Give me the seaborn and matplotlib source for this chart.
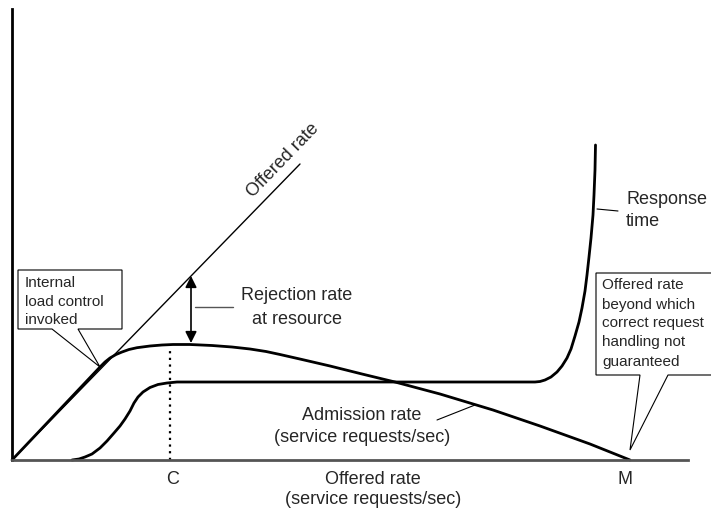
import matplotlib
matplotlib.use("Agg")
import matplotlib.pyplot as plt
import seaborn as sns
from matplotlib.patches import Polygon

# offered rate (straight diagonal)
offered_x = [0, 288]
offered_y = [0, 296]

# admission rate curve
admission_x = [0, 88, 93, 98, 104, 110, 117, 125, 138, 150, 161, 178, 200, 220, 238, 254,
               268, 290, 318, 350, 383, 428, 481, 528, 578, 618]
admission_y = [0, 93, 98, 102, 105.5, 108, 110.5, 112.3, 114, 115, 115.5, 115.5, 114.5, 113,
               111, 108.5, 105.5, 100.5, 94, 86, 78, 66, 50, 34, 16, 0]

# response time curve
response_x = [60, 67, 73, 80, 88, 95, 102, 108, 113, 118, 122, 126, 131, 138, 146, 155, 165,
              175, 523, 528, 533, 539, 545, 550, 555, 559, 563, 567, 570, 573, 575, 577, 579,
              581, 582, 583, 583.5]
response_y = [0, 1, 3, 6, 12, 19, 27, 34, 41, 49, 57, 63, 68, 72.5, 75.5, 77, 78, 78, 78,
              78.5, 80, 83, 88, 94, 102, 111, 124, 138, 152, 169, 185, 203, 222, 245, 265,
              290, 315]

capacity_x = 158
capacity_top = 110
max_x = 618
tick_labels = ["C", "M"]
tick_pos = [161, 613]

sns.set_style("white")
plt.rcParams["font.family"] = ["Liberation Sans", "DejaVu Sans"]

fig = plt.figure(figsize=(7.11, 5.08), dpi=100)
ax = fig.add_axes([0, 0, 1, 1])
ax.set_xlim(-12, 699)
ax.set_ylim(-48, 460)

sns.lineplot(x=offered_x, y=offered_y, ax=ax, color="black", lw=1, sort=False)
sns.lineplot(x=admission_x, y=admission_y, ax=ax, color="black", lw=2, sort=False)
sns.lineplot(x=response_x, y=response_y, ax=ax, color="black", lw=2, sort=False)

# capacity dotted line
ax.plot([capacity_x, capacity_x], [0, capacity_top], color="black", lw=1.6, ls=(0, (1, 2)))

# axes
for s in ["top", "right"]:
    ax.spines[s].set_visible(False)
ax.spines["left"].set_position(("data", 0))
ax.spines["left"].set_bounds(0, 451)
ax.spines["left"].set_linewidth(2)
ax.spines["left"].set_color("black")
ax.spines["bottom"].set_position(("data", 0))
ax.spines["bottom"].set_bounds(0, 676)
ax.spines["bottom"].set_linewidth(2)
ax.spines["bottom"].set_color("#555555")
ax.set_xticks([])
ax.set_yticks([])

fs = 13
for lab, p in zip(tick_labels, tick_pos):
    ax.text(p, -20, lab, ha="center", va="center", fontsize=fs)
ax.text(361, -20, "Offered rate", ha="center", va="center", fontsize=fs)
ax.text(361, -40, "(service requests/sec)", ha="center", va="center", fontsize=fs)

ax.text(271, 300, "Offered rate", ha="center", va="center", fontsize=fs, rotation=46)

# rejection rate arrow
ax.annotate("", xy=(179, 117), xytext=(179, 184),
            arrowprops=dict(arrowstyle="<|-|>", color="black", lw=1.2, mutation_scale=17,
                            shrinkA=0, shrinkB=0))
ax.plot([183, 221], [153, 153], color="#555555", lw=1)
ax.text(285, 164, "Rejection rate", ha="center", va="center", fontsize=fs)
ax.text(285, 140, "at resource", ha="center", va="center", fontsize=fs)

# admission label
ax.plot([425, 463], [40, 55], color="black", lw=0.8)
ax.text(350, 45, "Admission rate", ha="center", va="center", fontsize=fs)
ax.text(350, 22, "(service requests/sec)", ha="center", va="center", fontsize=fs)

# response time label
ax.plot([585, 606], [251, 249], color="black", lw=0.8)
ax.text(614, 260, "Response", ha="left", va="center", fontsize=fs)
ax.text(614, 238, "time", ha="left", va="center", fontsize=fs)

# callout boxes
box1 = Polygon([(6, 131), (40, 131), (88, 93), (66, 131), (110, 131), (110, 190), (6, 190)],
               closed=True, facecolor="white", edgecolor="black", lw=0.8, zorder=5)
ax.add_patch(box1)
for t, yy in zip(["Internal", "load control", "invoked"], [177, 158, 140]):
    ax.text(13, yy, t, ha="left", va="center", fontsize=11, zorder=6)

box2 = Polygon([(584, 85), (628, 85), (max_x, 10), (656, 85), (710, 85), (710, 187), (584, 187)],
               closed=True, facecolor="white", edgecolor="black", lw=0.8, zorder=5, clip_on=False)
ax.add_patch(box2)
for t, yy in zip(["Offered rate", "beyond which", "correct request", "handling not", "guaranteed"],
                 [175, 155, 137, 118, 98]):
    ax.text(590, yy, t, ha="left", va="center", fontsize=11, zorder=6)

fig.savefig("out.png", dpi=100)
